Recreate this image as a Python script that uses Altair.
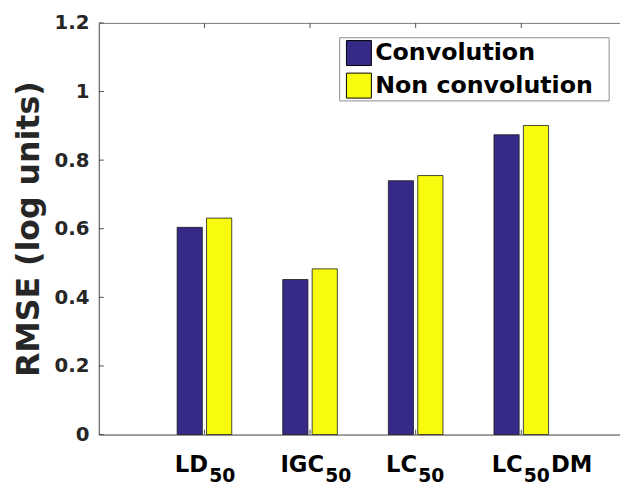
import altair as alt
import pandas as pd

categories = ["LD50", "IGC50", "LC50", "LC50DM"]
label_main = ["LD", "IGC", "LC", "LC"]
label_sub = ["50", "50", "50", "50"]
label_tail = ["", "", "", "DM"]
series = ["Convolution", "Non convolution"]
conv = [0.604, 0.452, 0.740, 0.874]
nonconv = [0.631, 0.483, 0.755, 0.901]
y_ticks = [0, 0.2, 0.4, 0.6, 0.8, 1.0, 1.2]

rows = []
for c, a, b in zip(categories, conv, nonconv):
    rows.append({"cat": c, "series": series[0], "val": a})
    rows.append({"cat": c, "series": series[1], "val": b})
df = pd.DataFrame(rows)
cat_df = pd.DataFrame({"cat": categories})
tick_df = pd.DataFrame({"v": y_ticks})

W, H = 528, 417
FONT = "DejaVu Sans"
TXT = "#262626"
AX = "#4d4d4d"
MAIN_FS, SUB_FS = 23, 19
# DejaVu Sans Bold advance widths (em) used to place subscript pieces
ADV = {"L": 0.638, "D": 0.830, "I": 0.372, "G": 0.821, "C": 0.735, "M": 0.995,
       "5": 0.696, "0": 0.696}


def text_w(s, fs):
    return sum(ADV.get(ch, 0.6) for ch in s) * fs


xscale = alt.Scale(domain=categories, paddingInner=0.483, paddingOuter=0.709, align=0.523)
yscale = alt.Scale(domain=[0, 1.2], nice=False)
yaxis = alt.Axis(title="RMSE (log units)", values=y_ticks, format=".1~f",
                 grid=False, ticks=False, labelFont=FONT, labelFontWeight="bold",
                 labelFontSize=20, labelColor=TXT, labelPadding=10,
                 domainColor=AX, domainWidth=1,
                 titleFont=FONT, titleFontWeight="bold", titleFontSize=32,
                 titleColor=TXT, titlePadding=9)

bars = alt.Chart(df).mark_bar(stroke="#1a1a1a", strokeWidth=0.8).encode(
    x=alt.X("cat:N", scale=xscale, sort=categories,
            axis=alt.Axis(title=None, labels=False, ticks=False,
                          domainColor=AX, domainWidth=1)),
    xOffset=alt.XOffset("series:N", sort=series, scale=alt.Scale(paddingInner=0.144)),
    y=alt.Y("val:Q", scale=yscale, axis=yaxis),
    fill=alt.Fill("series:N", sort=series,
                  scale=alt.Scale(domain=series, range=["#352a87", "#f9fb0e"]),
                  legend=alt.Legend(title=None, orient="none", legendX=246, legendY=13,
                                    symbolType="square", symbolSize=640,
                                    symbolStrokeColor="black", symbolStrokeWidth=1,
                                    symbolOpacity=1,
                                    labelFont=FONT, labelFontWeight="bold", labelFontSize=24,
                                    labelColor="black", labelOffset=3, rowPadding=2,
                                    padding=4, labelLimit=400)),
)

legend_box = alt.Chart(pd.DataFrame({"k": [0]})).mark_rect(
    fill="white", stroke="#8c8c8c", strokeWidth=1
).encode(x=alt.value(244), x2=alt.value(517), y=alt.value(15), y2=alt.value(79))

top_axis = alt.Chart(cat_df).mark_rule(color=AX, size=1).encode(
    x=alt.X("cat:N", scale=xscale, sort=categories,
            axis=alt.Axis(orient="top", labels=False, ticks=False, title=None,
                          domainColor="#7f7f7f", domainWidth=1)),
    y=alt.value(0), y2=alt.value(5),
)
bottom_ticks = alt.Chart(cat_df).mark_rule(color=AX, size=1).encode(
    x=alt.X("cat:N", scale=xscale, sort=categories, axis=None),
    y=alt.value(H - 5), y2=alt.value(H),
)
y_tick_marks = alt.Chart(tick_df).mark_rule(color=AX, size=1).encode(
    y=alt.Y("v:Q", scale=yscale, axis=yaxis),
    x=alt.value(0), x2=alt.value(5),
)

label_layers = []
for c, m, s, t in zip(categories, label_main, label_sub, label_tail):
    ldf = pd.DataFrame({"cat": [c], "main": [m], "sub": [s], "tail": [t]})
    x0 = -30
    xs = x0 + text_w(m, MAIN_FS) + 1
    xt = xs + text_w(s, SUB_FS) + 1
    base = alt.Chart(ldf)
    xenc = alt.X("cat:N", scale=xscale, sort=categories, axis=None)
    label_layers.append(base.mark_text(align="left", baseline="alphabetic", dx=x0,
                                       font=FONT, fontWeight="bold", fontSize=MAIN_FS,
                                       color="black").encode(
        x=xenc, y=alt.value(H + 38), text="main:N"))
    label_layers.append(base.mark_text(align="left", baseline="alphabetic", dx=xs,
                                       font=FONT, fontWeight="bold", fontSize=SUB_FS,
                                       color="black").encode(
        x=xenc, y=alt.value(H + 48), text="sub:N"))
    if t:
        label_layers.append(base.mark_text(align="left", baseline="alphabetic", dx=xt,
                                           font=FONT, fontWeight="bold", fontSize=MAIN_FS,
                                           color="black").encode(
            x=xenc, y=alt.value(H + 38), text="tail:N"))

chart = alt.layer(bars, y_tick_marks, legend_box, top_axis, bottom_ticks,
                  *label_layers).resolve_axis(
    x="independent"
).properties(
    width=W, height=H,
    autosize=alt.AutoSizeParams(type="none"),
    padding={"left": 92, "top": 12, "right": 0, "bottom": 49},
).configure_view(stroke=None).configure(background="white")

chart.save("out.html", embed_options={"renderer": "svg", "actions": False})
